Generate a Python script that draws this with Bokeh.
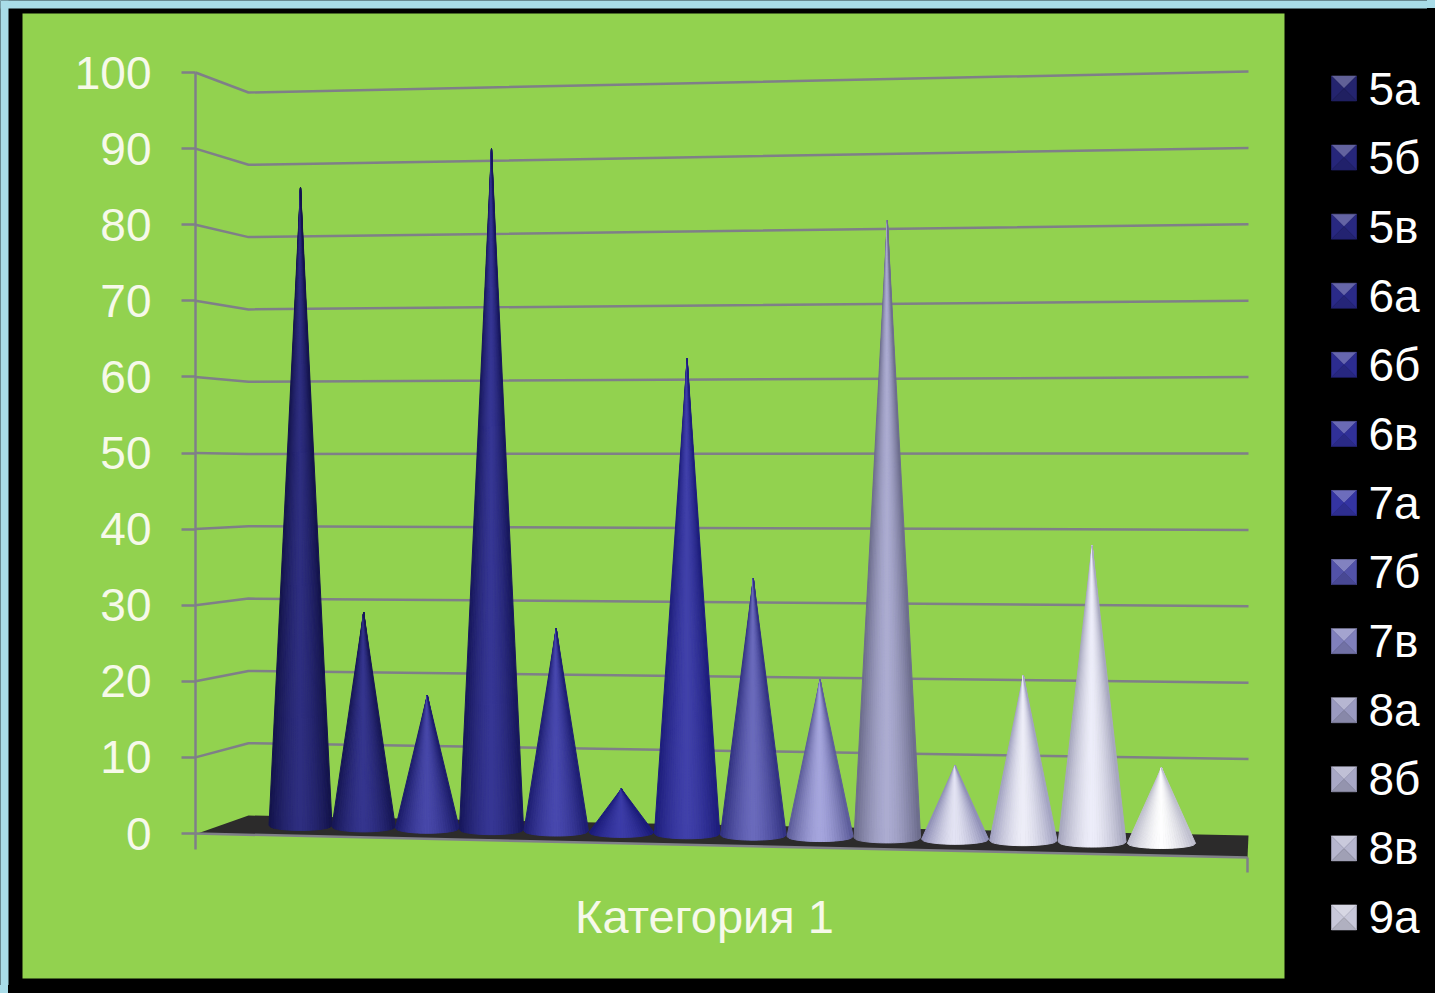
from bokeh.core.properties import value
from bokeh.document import Document
from bokeh.embed import file_html
from bokeh.models import ColumnDataSource, CustomJS, FixedTicker, LinearAxis, Range1d
from bokeh.plotting import figure
from bokeh.resources import INLINE

# ---- data -------------------------------------------------------------
category = "Категория 1"
series_names = ["5а", "5б", "5в", "6а", "6б", "6в", "7а", "7б", "7в", "8а", "8б", "8в", "9а"]
series_values = [85.1, 28.5, 17.6, 89.7, 26.6, 5.7, 61.9, 33.3, 20.3, 79.5, 9.5, 21.1, 37.7, 9.6]
y_ticks = [0, 10, 20, 30, 40, 50, 60, 70, 80, 90, 100]

# ---- styles -----------------------------------------------------------
cone_edge = ["#12124a", "#151553", "#1a1a68", "#16165a", "#1c1c70", "#191978", "#1c1c7a", "#303080",
             "#5a5a98", "#6a6a8a", "#8c8cb4", "#a0a0c0", "#a4a4bc", "#bcbccc"]
cone_mid = ["#2e2e80", "#35358e", "#4848aa", "#363694", "#4848ae", "#3c3ca8", "#4040aa", "#6a6abc",
            "#a6a6de", "#acacd2", "#e4e4f4", "#eeeef8", "#eeeefa", "#ffffff"]
legend_mid = ["#24246e", "#26267a", "#282880", "#2a2a88", "#2c2c90", "#303098", "#3434a2", "#5252a8",
              "#8080bc", "#9a9ac0", "#a8a8c6", "#b6b6ce", "#c8c8da"]
GREEN = "#92d24f"
GRID = "#7f7f88"
TEXT = "#f6f9ea"
BLUE = "#a9dce8"

PAGE_W, PAGE_H = 1427, 985
ZERO_PX, UNIT_PX = 833.0, 7.61


def v(py):
    """picture pixel row -> value-axis units"""
    return (ZERO_PX - py) / UNIT_PX


p = figure(width=PAGE_W, height=PAGE_H, output_backend="svg", toolbar_location=None,
           x_range=Range1d(0, PAGE_W), y_range=Range1d(v(PAGE_H), v(0)),
           x_axis_type=None, y_axis_type=None, min_border=0, outline_line_color=None,
           background_fill_color="#000000", border_fill_color="#000000")
p.grid.visible = False

# slide background strips and plot-area panel
p.quad(left=0, right=8, bottom=v(PAGE_H), top=v(0), fill_color=BLUE, line_color=None)
p.quad(left=0, right=PAGE_W, bottom=v(8), top=v(0), fill_color=BLUE, line_color=None)
p.quad(left=22, right=1284, bottom=v(978), top=v(13), fill_color=GREEN, line_color=None)

# back wall grid lines + side-wall segments
for t in y_ticks:
    if t == 0:
        continue
    p.line([195, 248, 1248],
           [t, v(815 - 7.23 * t), v(835 - 7.64 * t)],
           line_color=GRID, line_width=2.5)

# floor
p.patch([197, 248, 1248, 1247], [v(833), v(815), v(835), v(857)], fill_color="#2c2b2b", line_color=None)
p.line([195, 1247], [v(833), v(857)], line_color=GRID, line_width=2.5)
p.line([1247, 1247], [v(857), v(872)], line_color=GRID, line_width=2.5)
p.line([195, 195], [v(833), v(849)], line_color=GRID, line_width=2.5)


def lerp_hex(a, b, t):
    ca = [int(a[i:i + 2], 16) for i in (1, 3, 5)]
    cb = [int(b[i:i + 2], 16) for i in (1, 3, 5)]
    return "#%02x%02x%02x" % tuple(round(x + (y - x) * t) for x, y in zip(ca, cb))


# cones, seen through the chart's 3-D projection
N = 26
for i, val in enumerate(series_values):
    cx = 300 + 62.9 * i + 0.256 * i * i
    by = 825 + 1.38 * i
    r = 31.5 + 0.2 * i
    k = 7.5 + 0.03 * i
    tip_y = by - val * k
    xs, ys, cols = [], [], []
    for s in range(N):
        u0 = -1 + 2 * s / N
        u1 = -1 + 2 * (s + 1) / N
        um = (u0 + u1) / 2
        shade = max(0.0, 1 - abs(um) ** 1.5)
        xs.append([cx, cx + r * u0, cx + r * u1])
        ys.append([v(tip_y), v(by + 5 * (1 - u0 * u0) ** 0.5), v(by + 5 * (1 - u1 * u1) ** 0.5)])
        cols.append(lerp_hex(cone_edge[i], cone_mid[i], shade))
    src = ColumnDataSource(dict(xs=xs, ys=ys, c=cols))
    p.patches("xs", "ys", source=src, fill_color="c", line_color="c", line_width=1)

# legend
for i, name in enumerate(series_names):
    cy = 88 + 69.08 * i
    h = 12.5
    cx = 1343.5
    m = legend_mid[i]
    faces = [
        ([cx - h, cx + h, cx], [cy - h, cy - h, cy], lerp_hex(m, "#ffffff", 0.28)),
        ([cx - h, cx, cx - h], [cy - h, cy, cy + h], m),
        ([cx + h, cx, cx + h], [cy - h, cy, cy + h], m),
        ([cx - h, cx + h, cx], [cy + h, cy + h, cy], lerp_hex(m, "#000000", 0.12)),
    ]
    for fx, fy, col in faces:
        p.patch(fx, [v(q) for q in fy], fill_color=col, line_color=col, line_width=0.6)
    p.text([1368], [v(cy)], text=[name], text_font=value("Liberation Sans"),
           text_font_size="46px", text_color="#ffffff", text_align="left", text_baseline="middle")

# value axis
yaxis = LinearAxis(fixed_location=195, ticker=FixedTicker(ticks=y_ticks), bounds=(0, 100),
                   axis_line_color=GRID, axis_line_width=2.5,
                   major_tick_line_color=GRID, major_tick_line_width=2.5,
                   major_tick_out=14, major_tick_in=0, minor_tick_line_color=None,
                   major_label_text_font="Liberation Sans", major_label_text_font_size="46px",
                   major_label_text_color=TEXT, major_label_standoff=30)
p.add_layout(yaxis, "left")

# category axis
xaxis = LinearAxis(fixed_location=v(883), ticker=FixedTicker(ticks=[704]),
                   major_label_overrides={704: category},
                   axis_line_color=None, major_tick_line_color=None, minor_tick_line_color=None,
                   major_label_text_font="Liberation Sans", major_label_text_font_size="47px",
                   major_label_text_color=TEXT, major_label_standoff=0)
p.add_layout(xaxis, "below")

doc = Document()
doc.add_root(p)
doc.js_on_event("document_ready", CustomJS(code="""
document.documentElement.style.background =
  'linear-gradient(#a9dce8 0 8px, transparent 8px), linear-gradient(90deg, #a9dce8 0 8px, #000 8px)';
document.body.style.background = 'transparent';
"""))

open("out.html", "w").write(file_html(doc, INLINE))
